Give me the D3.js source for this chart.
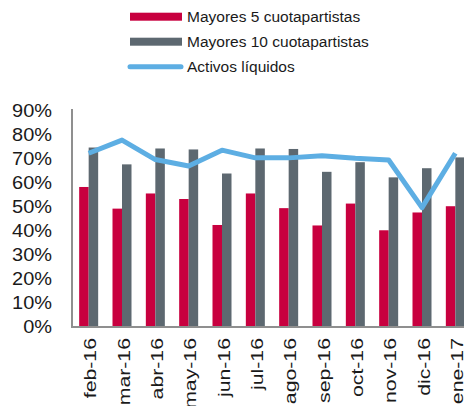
<!DOCTYPE html>
<html>
<head>
<meta charset="utf-8">
<script src="https://cdn.jsdelivr.net/npm/d3@7"></script>
<style>
  body { margin: 0; background: #fff; }
  text { font-family: "Liberation Sans", Arial, sans-serif; fill: #1a1a1a; }
</style>
</head>
<body>
<div id="chart"></div>
<script>
var months = ["feb-16", "mar-16", "abr-16", "may-16", "jun-16", "jul-16",
              "ago-16", "sep-16", "oct-16", "nov-16", "dic-16", "ene-17"];
var top5 = [58, 49, 55.3, 53, 42.2, 55.3, 49.2, 42, 51.1, 40, 47.4, 50];
var top10 = [74.4, 67.4, 74, 73.6, 63.6, 74, 73.8, 64.3, 68.3, 62, 65.8, 70.3];
var liquidos = [72, 77.5, 69.4, 66.7, 73.3, 70.1, 70.1, 71, 69.9, 69.2, 49.4, 72];
var yTicks = [0, 10, 20, 30, 40, 50, 60, 70, 80, 90];
var seriesNames = ["Mayores 5 cuotapartistas", "Mayores 10 cuotapartistas", "Activos líquidos"];
var color = ["#C8003F", "#5D6870", "#5DAEE3"];

var W = 464, H = 406;
var svg = d3.select("#chart").append("svg")
    .attr("width", W)
    .attr("height", H);

// scales (plot runs a bit past the right edge, like the original crop)
var x0 = d3.scaleBand()
    .domain(months)
    .range([72, 472])
    .paddingInner(0.43)
    .paddingOuter(0.215);
var x1 = d3.scaleBand()
    .domain([0, 1])
    .range([0, x0.bandwidth()]);
var y = d3.scaleLinear()
    .domain([0, 90])
    .range([326.5, 110]);

// y labels
svg.append("g").selectAll("text")
  .data(yTicks)
  .enter().append("text")
    .attr("transform", function(d) { return "translate(52," + (y(d) + 6.5) + ") scale(1.05,1)"; })
    .attr("text-anchor", "end")
    .style("font-size", "19px")
    .text(function(d) { return d + "%"; });

// bars
var groups = svg.append("g").selectAll("g")
  .data(months)
  .enter().append("g")
    .attr("transform", function(d) { return "translate(" + x0(d) + ",0)"; });

groups.append("rect")
    .attr("x", x1(0))
    .attr("width", x1.bandwidth())
    .attr("y", function(d, i) { return y(top5[i]); })
    .attr("height", function(d, i) { return y(0) - y(top5[i]); })
    .attr("fill", color[0]);

groups.append("rect")
    .attr("x", x1(1))
    .attr("width", x1.bandwidth())
    .attr("y", function(d, i) { return y(top10[i]); })
    .attr("height", function(d, i) { return y(0) - y(top10[i]); })
    .attr("fill", color[1]);

// axes lines
svg.append("line")
    .attr("x1", 72).attr("x2", 72)
    .attr("y1", 109).attr("y2", y(0) + 1)
    .attr("stroke", "#8f8f8f").attr("stroke-width", 2);
svg.append("line")
    .attr("x1", 71).attr("x2", W)
    .attr("y1", y(0) + 0.5).attr("y2", y(0) + 0.5)
    .attr("stroke", "#8f8f8f").attr("stroke-width", 2);

// line
var line = d3.line()
    .x(function(d, i) { return x0(months[i]) + x0.bandwidth() / 2; })
    .y(function(d) { return y(d); });
svg.append("path")
    .datum(liquidos)
    .attr("d", line)
    .attr("fill", "none")
    .attr("stroke", color[2])
    .attr("stroke-width", 5)
    .attr("stroke-linejoin", "round");

// x labels, rotated
svg.append("g").selectAll("text")
  .data(months)
  .enter().append("text")
    .attr("transform", function(d) {
      return "translate(" + (x0(d) + x0.bandwidth() / 2 + 7.5) + ",338) rotate(-90) scale(1.25,1)";
    })
    .attr("text-anchor", "end")
    .style("font-size", "17px")
    .text(function(d) { return d; });

// legend
var lg = svg.append("g");
for (var i = 0; i < 3; i++) {
  var cy = 16.7 + i * 25;
  if (i < 2) {
    lg.append("rect")
        .attr("x", 130).attr("y", cy - 4)
        .attr("width", 52).attr("height", 8)
        .attr("fill", color[i]);
  } else {
    lg.append("line")
        .attr("x1", 130).attr("x2", 181)
        .attr("y1", cy).attr("y2", cy)
        .attr("stroke", color[i]).attr("stroke-width", 5)
        .attr("stroke-linecap", "round");
  }
  lg.append("text")
      .attr("x", 187)
      .attr("y", cy + 5.3)
      .style("font-size", "15.5px")
      .text(seriesNames[i]);
}
</script>
</body>
</html>
